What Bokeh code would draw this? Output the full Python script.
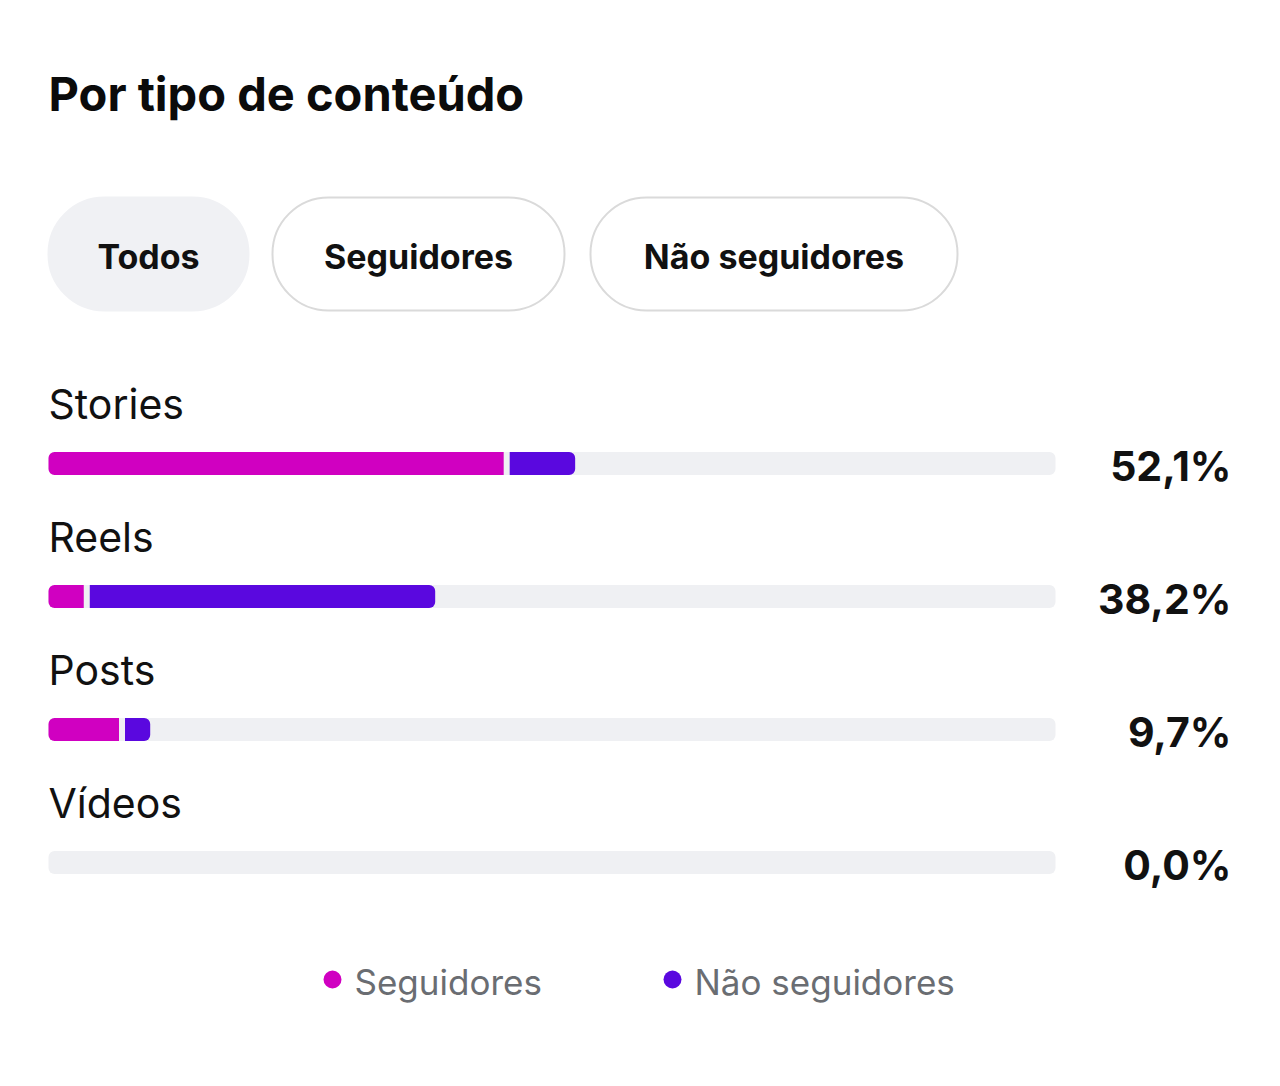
from bokeh.plotting import figure
from bokeh.models import Range1d, ColumnDataSource
from bokeh.core.properties import value
from bokeh.embed import file_html
from bokeh.resources import INLINE

# ---- data ----
title = "Por tipo de conteúdo"
tabs = ["Todos", "Seguidores", "Não seguidores"]
categories = ["Stories", "Reels", "Posts", "Vídeos"]
totals = [52.1, 38.2, 9.7, 0.0]
seguidores = [45.5, 3.8, 7.3, 0.0]
nao_seguidores = [6.8, 34.6, 2.8, 0.0]
value_labels = ["52,1%", "38,2%", "9,7%", "0,0%"]
legend_labels = ["Seguidores", "Não seguidores"]

# ---- style / layout ----
W, H = 1280, 1086
BAR_X0, BAR_X1 = 48, 1055            # pixel extent of 0..100 %
ppu = (BAR_X1 - BAR_X0) / 100.0
FONT = value("Inter")
PINK = "#d000c1"
PURPLE = "#5a08df"
TRACK = "#eff0f3"
GAP = 3.0 / ppu                       # 3px gap in data units

p = figure(width=W, height=H, output_backend="svg", toolbar_location=None,
           x_range=Range1d(-BAR_X0 / ppu, (W - BAR_X0) / ppu),
           y_range=Range1d(H, 0), min_border=0, outline_line_color=None,
           background_fill_color="white", border_fill_color="white")
p.extra_x_ranges = {"px": Range1d(0, W)}
p.xaxis.visible = False
p.yaxis.visible = False
p.grid.visible = False

# title
p.text(x=[48], y=[93], text=[title], x_range_name="px", text_font=FONT,
       text_font_size="47px", text_font_style="bold", text_color="#0b0b0b",
       text_baseline="middle", text_align="left")

# tabs (pills)
tab_left = [48, 272, 590]
tab_right = [248, 564, 957]
tab_fill = ["#f0f1f4", "white", "white"]
tab_line = ["#f0f1f4", "#dadada", "#dadada"]
tsrc = ColumnDataSource(dict(left=tab_left, right=tab_right, fill=tab_fill, line=tab_line,
                             cx=[(a + b) / 2 for a, b in zip(tab_left, tab_right)], label=tabs))
p.quad(left="left", right="right", top=197, bottom=310, source=tsrc, x_range_name="px",
       fill_color="fill", line_color="line", line_width=2, border_radius=56)
p.text(x="cx", y=256, text="label", source=tsrc, x_range_name="px", text_font=FONT,
       text_font_size="34px", text_font_style="bold", text_color="#111111",
       text_align="center", text_baseline="middle")

# rows
ROW0, STEP = 463, 133
n = len(categories)
bar_y = [ROW0 + i * STEP for i in range(n)]
lab_y = [y - 60 for y in bar_y]

p.text(x=[48] * n, y=lab_y, text=categories, x_range_name="px", text_font=FONT,
       text_font_size="41px", text_color="#111111", text_align="left", text_baseline="middle")
p.text(x=[1231] * n, y=[y + 2 for y in bar_y], text=value_labels, x_range_name="px", text_font=FONT,
       text_font_size="41px", text_font_style="bold", text_color="#111111",
       text_align="right", text_baseline="middle")

BAR_H = 23
p.hbar(y=bar_y, left=[0] * n, right=[100] * n, height=BAR_H, fill_color=TRACK,
       line_color=None, border_radius=6)

pk = [i for i in range(n) if seguidores[i] > 0]
pk_src = ColumnDataSource(dict(y=[bar_y[i] for i in pk], left=[0 for i in pk],
                               right=[seguidores[i] - (GAP if nao_seguidores[i] > 0 else 0) for i in pk]))
p.hbar(y="y", left="left", right="right", height=BAR_H, source=pk_src,
       fill_color=PINK, line_color=None, border_radius=(6, 0, 0, 6))

pu = [i for i in range(n) if nao_seguidores[i] > 0]
pu_src = ColumnDataSource(dict(y=[bar_y[i] for i in pu],
                               left=[seguidores[i] + (GAP if seguidores[i] > 0 else 0) for i in pu],
                               right=[seguidores[i] + nao_seguidores[i] for i in pu]))
p.hbar(y="y", left="left", right="right", height=BAR_H, source=pu_src,
       fill_color=PURPLE, line_color=None, border_radius=(0, 6, 6, 0))

# legend
leg_x = [332, 672]
p.scatter(x=leg_x, y=[979, 979], size=18, fill_color=[PINK, PURPLE], line_color=None,
          x_range_name="px")
p.text(x=[x + 22 for x in leg_x], y=[981, 981], text=legend_labels, x_range_name="px",
       text_font=FONT, text_font_size="35px", text_color="#6a6d72",
       text_align="left", text_baseline="middle")

open("out.html", "w").write(file_html(p, INLINE))
